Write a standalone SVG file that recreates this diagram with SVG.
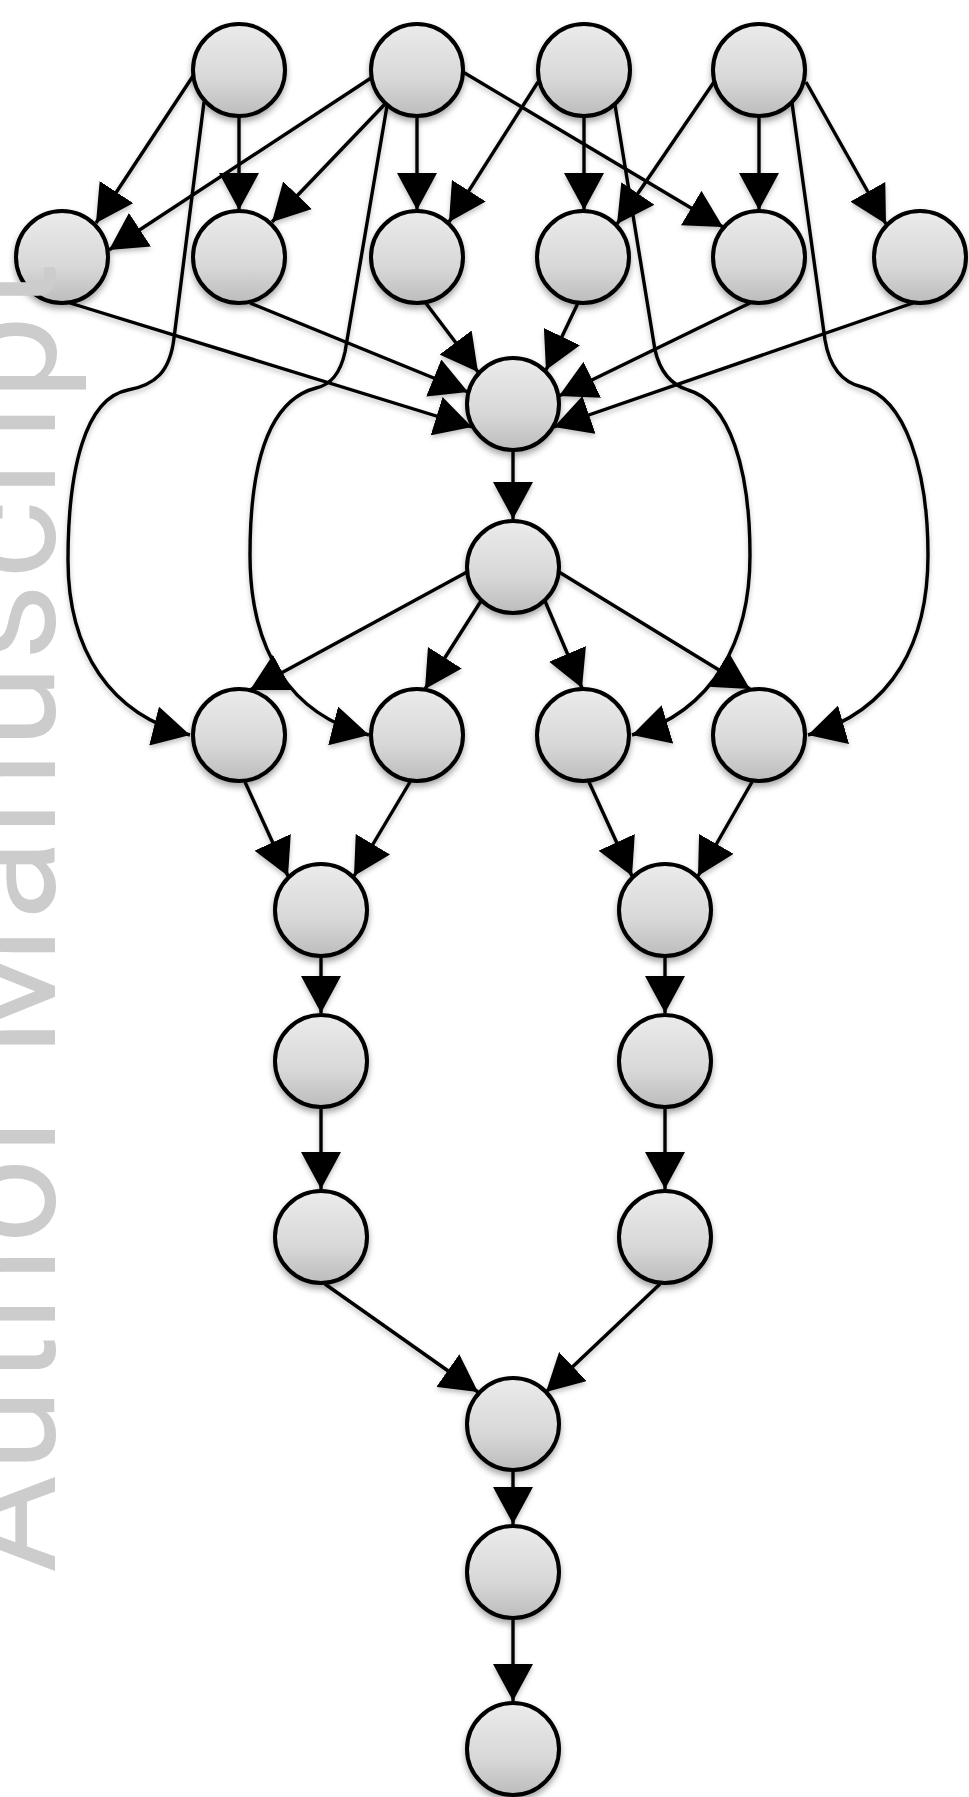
<svg xmlns="http://www.w3.org/2000/svg" width="969" height="1797" viewBox="0 0 969 1797">
<defs>
<style>
.n{fill:url(#g);stroke:#000;stroke-width:4}
.e{fill:none;stroke:#000;stroke-width:3.4;marker-end:url(#ah)}
.wm{font-family:Roboto,"Open Sans","Liberation Sans",sans-serif;font-weight:400;font-size:150px;fill:#cccccc}
</style>
<linearGradient id="g" x1="0" y1="0" x2="0" y2="1">
<stop offset="0" stop-color="#ebebeb"/>
<stop offset="0.6" stop-color="#d8d8d8"/>
<stop offset="1" stop-color="#bcbcbc"/>
</linearGradient>
<filter id="sh" x="-20%" y="-20%" width="140%" height="150%">
<feDropShadow dx="0" dy="4" stdDeviation="3" flood-color="#000" flood-opacity="0.35"/>
</filter>
<filter id="shl" x="-10%" y="-10%" width="120%" height="120%">
<feDropShadow dx="0" dy="3" stdDeviation="2.5" flood-color="#000" flood-opacity="0.25"/>
</filter>
<marker id="ah" markerUnits="userSpaceOnUse" viewBox="0 0 37 40" markerWidth="37" markerHeight="40" refX="37" refY="20" orient="auto">
<path d="M0,0 L37,20 L0,40 Z" fill="#000"/>
</marker>
</defs>
<rect width="969" height="1797" fill="#fff"/>
<g id="connectors" filter="url(#shl)">
<path class="e" d="M193,76 L96,223"/>
<path class="e" d="M239,117 L239,210"/>
<path class="e" d="M371,78 L109,250"/>
<path class="e" d="M385,104 L272,222"/>
<path class="e" d="M417,117 L417,210"/>
<path class="e" d="M463,72 L723,227"/>
<path class="e" d="M538,82 L449,222"/>
<path class="e" d="M584,117 L584,210"/>
<path class="e" d="M714,82 L617,224"/>
<path class="e" d="M759,117 L759,210"/>
<path class="e" d="M806,82 L886,224"/>
<path class="e" d="M204,102 L174,338 C170,372 155,385 128,390 C85,398 68,470 68,560 C68,650 110,715 190,735"/>
<path class="e" d="M387,106 L345,352 C340,375 330,385 316,388 C270,400 250,460 250,555 C250,650 290,715 369,735"/>
<path class="e" d="M615,105 L655,350 C660,372 672,385 688,390 C730,402 750,470 750,555 C750,640 715,710 632,735"/>
<path class="e" d="M792,103 L825,340 C830,370 845,383 862,387 C905,398 928,470 928,555 C928,640 895,710 808,735"/>
<path class="e" d="M70,303 L472,427"/>
<path class="e" d="M250,303 L468,392"/>
<path class="e" d="M425,302 L478,372"/>
<path class="e" d="M578,303 L546,370"/>
<path class="e" d="M750,303 L559,396"/>
<path class="e" d="M913,303 L554,427"/>
<path class="e" d="M513,451 L513,519"/>
<path class="e" d="M467,572 L250,690"/>
<path class="e" d="M481,601 L425,689"/>
<path class="e" d="M545,601 L582,688"/>
<path class="e" d="M559,572 L750,689"/>
<path class="e" d="M245,782 L288,876"/>
<path class="e" d="M410,782 L354,876"/>
<path class="e" d="M589,782 L632,876"/>
<path class="e" d="M752,782 L698,876"/>
<path class="e" d="M321,957 L321,1013"/>
<path class="e" d="M321,1108 L321,1189"/>
<path class="e" d="M665,957 L665,1013"/>
<path class="e" d="M665,1108 L665,1189"/>
<path class="e" d="M325,1284 L478,1392"/>
<path class="e" d="M660,1284 L546,1392"/>
<path class="e" d="M513,1471 L513,1524"/>
<path class="e" d="M513,1619 L513,1701"/>
</g>
<g filter="url(#sh)">
<g id="t1"><circle class="n" cx="239" cy="70" r="46"/></g>
<g id="t2"><circle class="n" cx="417" cy="70" r="46"/></g>
<g id="t3"><circle class="n" cx="584" cy="70" r="46"/></g>
<g id="t4"><circle class="n" cx="759" cy="70" r="46"/></g>
<g id="a1"><circle class="n" cx="62" cy="257" r="46"/></g>
<g id="a2"><circle class="n" cx="239" cy="257" r="46"/></g>
<g id="a3"><circle class="n" cx="417" cy="257" r="46"/></g>
<g id="a4"><circle class="n" cx="583" cy="257" r="46"/></g>
<g id="a5"><circle class="n" cx="759" cy="257" r="46"/></g>
<g id="a6"><circle class="n" cx="920" cy="257" r="46"/></g>
<g id="c1"><circle class="n" cx="513" cy="404" r="46"/></g>
<g id="c2"><circle class="n" cx="513" cy="567" r="46"/></g>
<g id="b1"><circle class="n" cx="239" cy="735" r="46"/></g>
<g id="b2"><circle class="n" cx="417" cy="735" r="46"/></g>
<g id="b3"><circle class="n" cx="583" cy="735" r="46"/></g>
<g id="b4"><circle class="n" cx="759" cy="735" r="46"/></g>
<g id="d1"><circle class="n" cx="321" cy="910" r="46"/></g>
<g id="d2"><circle class="n" cx="665" cy="910" r="46"/></g>
<g id="e1"><circle class="n" cx="321" cy="1061" r="46"/></g>
<g id="e2"><circle class="n" cx="665" cy="1061" r="46"/></g>
<g id="f1"><circle class="n" cx="321" cy="1237" r="46"/></g>
<g id="f2"><circle class="n" cx="665" cy="1237" r="46"/></g>
<g id="g1"><circle class="n" cx="513" cy="1424" r="46"/></g>
<g id="h1"><circle class="n" cx="513" cy="1572" r="46"/></g>
<g id="i1"><circle class="n" cx="513" cy="1749" r="46"/></g>
</g>
<g id="watermark">
<text class="wm" transform="translate(55,1573) rotate(-90)" textLength="1311" lengthAdjust="spacing">Author Manuscript</text>
</g>
</svg>
